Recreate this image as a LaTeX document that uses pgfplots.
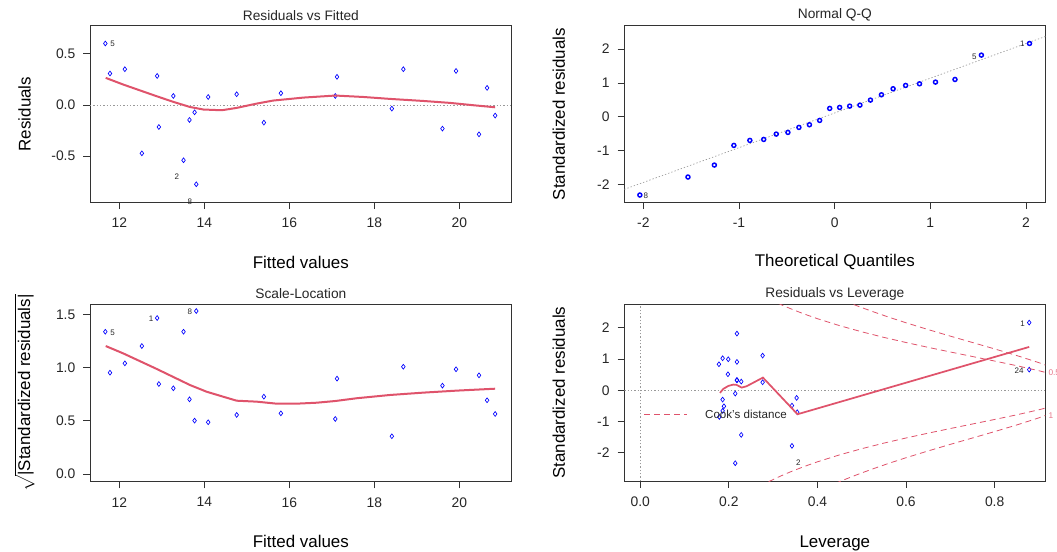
\documentclass[border=0pt]{standalone}
\usepackage{amsmath}
\usepackage{pgfplots}
\pgfplotsset{compat=1.18}
\usepackage{fontspec}
\setmainfont{Liberation Sans}
\definecolor{rred}{HTML}{DF536B}
\definecolor{frm}{HTML}{333333}
\tikzset{idlab/.style={font=\fontsize{6}{7}\selectfont, text=black!85, inner sep=0pt}}
\pgfplotsset{
  rbase/.style={
    scale only axis,
    axis line style={frm, line width=0.6pt},
    tick align=outside,
    major tick length=5pt,
    tick style={frm, line width=0.6pt},
    xtick pos=bottom, ytick pos=left,
    /pgf/number format/assume math mode=true,
    ticklabel style={font=\fontsize{10.4}{12}\selectfont, text=black!85},
    xticklabel style={yshift=-3.3pt},
    yticklabel style={xshift=-2.5pt},
    title style={font=\fontsize{10.3}{12}\selectfont, at={(axis description cs:0.5,1)}, anchor=center, yshift=2pt, text=black!85},
    every axis x label/.style={at={(axis description cs:0.5,0)}, anchor=center, yshift=-44.8pt, font=\fontsize{12.7}{15}\selectfont},
    every axis y label/.style={at={(axis description cs:0,0.5)}, xshift=-49pt, anchor=center, rotate=90, font=\fontsize{12.7}{15}\selectfont},
    clip mode=individual,
  },
  pts/.style={only marks, mark=diamond, mark size=1.8pt, blue, mark options={line width=0.5pt, fill=none}},
  smoo/.style={no marks, rred, line width=1.5pt},
  zline/.style={no marks, gray!80, line width=0.5pt, dash pattern=on 1pt off 1.5pt},
  cook/.style={no marks, rred, line width=0.6pt, dash pattern=on 4.5pt off 3pt},
}
\begin{document}
\begin{tikzpicture}
\useasboundingbox (0,0) rectangle (792.75pt,413.25pt);

% ---------- Residuals vs Fitted ----------
\begin{axis}[rbase, at={(67.5pt,261.5pt)}, anchor=south west,
  width=316.3pt, height=132.4pt,
  xmin=11.31, xmax=21.23, ymin=-0.954, ymax=0.775,
  xtick={12,14,16,18,20}, ytick={-0.5,0,0.5},
  yticklabel style={/pgf/number format/.cd, fixed, fixed zerofill, precision=1},
  title={Residuals vs Fitted}, xlabel={Fitted values}, ylabel={Residuals}]
\addplot[zline] coordinates {(11.31,0) (21.23,0)};
\addplot[pts] coordinates {
(11.67,0.602) (11.78,0.308) (12.13,0.350) (12.53,-0.474) (12.89,0.284) (12.93,-0.216)
(13.27,0.088) (13.51,-0.542) (13.65,-0.147) (13.77,-0.072) (13.81,-0.777) (14.09,0.078)
(14.76,0.105) (15.40,-0.173) (15.80,0.115) (17.12,0.275) (17.08,0.088) (18.41,-0.036)
(18.68,0.350) (19.60,-0.232) (19.92,0.333) (20.46,-0.288) (20.65,0.167) (20.84,-0.104)};
\addplot[smoo] coordinates {
(11.68,0.265) (12.09,0.200) (12.88,0.085) (13.27,0.030) (13.66,-0.020) (13.98,-0.045)
(14.41,-0.052) (14.76,-0.029) (15.23,0.013) (15.62,0.043) (16.33,0.072) (17.08,0.092)
(17.74,0.078) (18.37,0.059) (19.15,0.039) (19.78,0.020) (20.33,-0.003) (20.84,-0.023)};
\node[idlab] at (axis cs:11.84,0.595) {5};
\node[idlab] at (axis cs:13.35,-0.706) {2};
\node[idlab] at (axis cs:13.66,-0.944) {8};
\end{axis}

% ---------- Normal Q-Q ----------
\begin{axis}[rbase, at={(468.2pt,261.5pt)}, anchor=south west,
  width=315.9pt, height=132.4pt,
  xmin=-2.2, xmax=2.204, ymin=-2.53, ymax=2.69,
  xtick={-2,-1,0,1,2}, ytick={-2,-1,0,1,2},
  title={Normal Q-Q}, xlabel={Theoretical Quantiles}, ylabel={Standardized residuals}]
\addplot[zline] coordinates {(-2.2,-2.146) (2.204,2.376)};
\addplot[only marks, mark=o, mark size=1.5pt, blue, mark options={line width=1.1pt}] coordinates {
(-2.037,-2.314) (-1.534,-1.782) (-1.258,-1.428) (-1.054,-0.847) (-0.887,-0.699) (-0.742,-0.670)
(-0.611,-0.512) (-0.489,-0.463) (-0.374,-0.315) (-0.264,-0.236) (-0.157,-0.108) (-0.052,0.247)
(0.052,0.276) (0.157,0.315) (0.264,0.345) (0.374,0.493) (0.489,0.650) (0.611,0.828)
(0.742,0.926) (0.887,0.975) (1.054,1.025) (1.258,1.103) (1.534,1.823) (2.037,2.168)};
\node[idlab] at (axis cs:-1.975,-2.344) {8};
\node[idlab] at (axis cs:1.46,1.774) {5};
\node[idlab] at (axis cs:1.961,2.149) {1};
\end{axis}

% ---------- Scale-Location ----------
\begin{axis}[rbase, at={(67.5pt,52pt)}, anchor=south west,
  width=316.3pt, height=133pt,
  xmin=11.31, xmax=21.23, ymin=-0.073, ymax=1.598,
  xtick={12,14,16,18,20}, ytick={0,0.5,1,1.5},
  yticklabel style={/pgf/number format/.cd, fixed, fixed zerofill, precision=1},
  title={Scale-Location}, xlabel={Fitted values},
  ylabel={$\sqrt{\text{|Standardized residuals|}}$}]
\addplot[pts] coordinates {
(11.67,1.340) (11.78,0.954) (12.13,1.042) (12.53,1.205) (12.89,1.469) (12.93,0.847)
(13.27,0.807) (13.51,1.340) (13.65,0.703) (13.77,0.502) (13.81,1.535) (14.09,0.487)
(14.76,0.556) (15.40,0.728) (15.80,0.571) (17.12,0.898) (17.08,0.518) (18.41,0.355)
(18.68,1.010) (19.60,0.832) (19.92,0.986) (20.46,0.929) (20.65,0.694) (20.84,0.565)};
\addplot[smoo] coordinates {
(11.68,1.205) (12.09,1.136) (12.88,0.989) (13.66,0.838) (14.05,0.775) (14.44,0.728)
(14.76,0.690) (15.23,0.681) (15.70,0.662) (16.17,0.662) (16.64,0.671) (17.08,0.687)
(17.58,0.713) (18.37,0.744) (19.15,0.766) (19.94,0.785) (20.84,0.803)};
\node[idlab] at (axis cs:11.84,1.334) {5};
\node[idlab] at (axis cs:12.75,1.466) {1};
\node[idlab] at (axis cs:13.66,1.528) {8};
\end{axis}

% ---------- Residuals vs Leverage ----------
\begin{axis}[rbase, at={(468.2pt,52.5pt)}, anchor=south west,
  width=315.9pt, height=132.5pt,
  xmin=-0.036, xmax=0.9147, ymin=-2.905, ymax=2.75,
  xtick={0,0.2,0.4,0.6,0.8}, ytick={-2,-1,0,1,2},
  xticklabel style={/pgf/number format/.cd, fixed, fixed zerofill, precision=1},
  title={Residuals vs Leverage}, xlabel={Leverage}, ylabel={Standardized residuals},
  every axis x label/.append style={yshift=-2pt}]
\addplot[zline] coordinates {(-0.036,0) (0.9147,0)};
\addplot[zline] coordinates {(0,-2.905) (0,2.75)};
\addplot[pts] coordinates {
(0.878,2.166) (0.878,0.661) (0.2183,1.813) (0.2763,1.109) (0.1777,0.832) (0.186,1.024)
(0.1987,0.992) (0.2183,0.907) (0.198,0.512) (0.2183,0.330) (0.228,0.277) (0.2763,0.256)
(0.2183,0.315) (0.2145,-0.107) (0.186,-0.299) (0.353,-0.245) (0.3425,-0.491) (0.189,-0.512)
(0.186,-0.660) (0.3545,-0.704) (0.1785,-0.853) (0.228,-1.429) (0.3425,-1.781) (0.2145,-2.336)};
\addplot[smoo, line width=1.3pt] coordinates {
(0.180,-0.085) (0.1875,0.043) (0.199,0.139) (0.210,0.181) (0.2176,0.171) (0.229,0.085)
(0.240,0.128) (0.277,0.405) (0.355,-0.768) (0.878,1.387)};
\addplot[cook] coordinates {
(0.27,3.076) (0.28,3.0) (0.29,2.927) (0.30,2.858) (0.32,2.727) (0.34,2.607) (0.37,2.441)
(0.40,2.291) (0.45,2.068) (0.50,1.871) (0.55,1.692) (0.60,1.528) (0.65,1.373) (0.70,1.225)
(0.75,1.080) (0.80,0.935) (0.85,0.786) (0.90,0.624) (0.92,0.552)};
\addplot[cook] coordinates {
(0.27,-3.076) (0.28,-3.0) (0.29,-2.927) (0.30,-2.858) (0.32,-2.727) (0.34,-2.607) (0.37,-2.441)
(0.40,-2.291) (0.45,-2.068) (0.50,-1.871) (0.55,-1.692) (0.60,-1.528) (0.65,-1.373) (0.70,-1.225)
(0.75,-1.080) (0.80,-0.935) (0.85,-0.786) (0.90,-0.624) (0.92,-0.552)};
\addplot[cook] coordinates {
(0.44,2.985) (0.46,2.867) (0.48,2.754) (0.50,2.646) (0.53,2.492) (0.56,2.345) (0.60,2.160)
(0.65,1.942) (0.70,1.732) (0.75,1.528) (0.80,1.323) (0.85,1.111) (0.90,0.882) (0.92,0.780)};
\addplot[cook] coordinates {
(0.44,-2.985) (0.46,-2.867) (0.48,-2.754) (0.50,-2.646) (0.53,-2.492) (0.56,-2.345) (0.60,-2.160)
(0.65,-1.942) (0.70,-1.732) (0.75,-1.528) (0.80,-1.323) (0.85,-1.111) (0.90,-0.882) (0.92,-0.780)};
\draw[rred, line width=0.6pt, dash pattern=on 4.5pt off 3pt] (axis cs:0.009,-0.758) -- (axis cs:0.1047,-0.758);
\node[anchor=west, inner sep=0pt, font=\fontsize{8.7}{10}\selectfont, text=black!85] at (axis cs:0.146,-0.77) {Cook's distance};
\node[idlab] at (axis cs:0.863,2.144) {1};
\node[idlab] at (axis cs:0.855,0.64) {24};
\node[idlab] at (axis cs:0.357,-2.31) {2};
\node[anchor=west, inner sep=0pt, font=\fontsize{6.2}{7}\selectfont, text=rred!80] at (axis cs:0.921,0.571) {0.5};
\node[anchor=west, inner sep=0pt, font=\fontsize{6.2}{7}\selectfont, text=rred!80] at (axis cs:0.921,-0.808) {1};
\end{axis}
\end{tikzpicture}
\end{document}
